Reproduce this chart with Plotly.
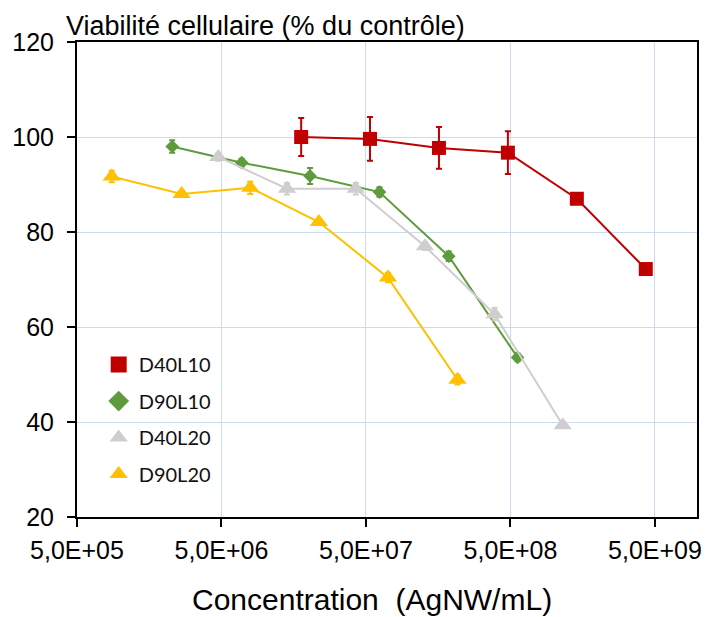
import numpy as np
import plotly.graph_objects as go

# ---- data ----
series_names = ["D40L10", "D90L10", "D40L20", "D90L20"]

red_x = [1.78e7, 5.33e7, 1.6e8, 4.8e8, 1.44e9, 4.32e9]
red_y = [100.0, 99.6, 97.7, 96.7, 87.0, 72.2]
red_err = [4.0, 4.6, 4.4, 4.5, 0.0, 0.0]

green_x = [2.28e6, 6.9e6, 2.05e7, 6.2e7, 1.87e8, 5.6e8]
green_y = [98.0, 94.6, 91.8, 88.4, 74.9, 53.6]
green_err = [1.3, 0.8, 1.7, 1.0, 1.0, 0.8]

gray_x = [4.75e6, 1.42e7, 4.25e7, 1.28e8, 3.88e8, 1.15e9]
gray_y = [95.8, 89.1, 89.1, 77.0, 62.7, 39.3]
gray_err = [0.8, 1.2, 1.2, 0.8, 1.3, 0.5]

yellow_x = [8.7e5, 2.65e6, 7.9e6, 2.36e7, 7.1e7, 2.15e8]
yellow_y = [91.7, 88.0, 89.3, 82.1, 70.4, 48.9]
yellow_err = [1.2, 0.5, 1.3, 0.5, 1.0, 1.0]

x_tickvals = [5e5, 5e6, 5e7, 5e8, 5e9]
x_ticktext = ["5,0E+05", "5,0E+06", "5,0E+07", "5,0E+08", "5,0E+09"]
y_tickvals = [20, 40, 60, 80, 100, 120]

title_text = "Viabilité cellulaire (% du contrôle)"
xtitle_text = "Concentration  (AgNW/mL)"

# ---- styles ----
colors = ["#C00000", "#5E9B3C", "#CFCDCD", "#FFC000"]
symbols = ["square", "diamond", "triangle-up", "triangle-up"]
sizes = [14, 10.5, 16, 16]
xs = [red_x, green_x, gray_x, yellow_x]
ys = [red_y, green_y, gray_y, yellow_y]
errs = [red_err, green_err, gray_err, yellow_err]

fig = go.Figure()
for name, x, y, e, c, s, sz in zip(series_names, xs, ys, errs, colors, symbols, sizes):
    fig.add_trace(go.Scatter(
        x=x, y=y, mode="lines+markers", name=name, legendgroup=name,
        showlegend=False,
        line=dict(color=c, width=2),
        marker=dict(symbol=s, size=sz, color=c, line=dict(width=0)),
        error_y=dict(type="data", array=e, visible=True, color=c,
                     thickness=2, width=3),
    ))
# legend entries (markers only, as in the reference)
for name, c, s in zip(series_names, colors, symbols):
    fig.add_trace(go.Scatter(
        x=[None], y=[None], mode="markers", name=name, legendgroup=name,
        showlegend=True,
        marker=dict(symbol=s, size=16, color=c, line=dict(width=0)),
    ))

axis_font = dict(family="Liberation Sans, Arial, sans-serif", size=25, color="black")
grid_c = "#CADCEE"

fig.update_layout(
    width=706, height=617, autosize=False,
    margin=dict(l=77, r=9, t=42, b=100, pad=0),
    paper_bgcolor="white", plot_bgcolor="white",
    font=axis_font,
    showlegend=True,
    legend=dict(
        x=0.035, y=0.362, xanchor="left", yanchor="top",
        bgcolor="rgba(0,0,0,0)", borderwidth=0,
        font=dict(family="Lato, Carlito, sans-serif", size=20, color="#111111"),
        tracegroupgap=7.5, itemsizing="trace",
    ),
    xaxis=dict(
        type="log", range=[np.log10(5e5), 9.99],
        tickvals=x_tickvals, ticktext=x_ticktext,
        ticks="outside", ticklen=8, tickwidth=2, tickcolor="black",
        showline=True, linecolor="black", linewidth=2, mirror=True,
        showgrid=True, gridcolor=grid_c, gridwidth=1, zeroline=False,
        tickfont=axis_font, ticklabelstandoff=2, automargin=False,
    ),
    yaxis=dict(
        range=[20, 120], tickvals=y_tickvals,
        ticks="outside", ticklen=8, tickwidth=2, tickcolor="black",
        showline=True, linecolor="black", linewidth=2, mirror=True,
        showgrid=True, gridcolor=grid_c, gridwidth=1, zeroline=False,
        tickfont=axis_font, ticklabelstandoff=8, automargin=False,
    ),
    annotations=[
        dict(text=title_text, xref="paper", yref="paper",
             x=-0.0215, y=1.0337, xanchor="left", yanchor="middle",
             showarrow=False,
             font=dict(family="Liberation Sans, Arial, sans-serif", size=27, color="black")),
        dict(text=xtitle_text, xref="paper", yref="paper",
             x=0.4766, y=-0.1747, xanchor="center", yanchor="middle",
             showarrow=False,
             font=dict(family="Liberation Sans, Arial, sans-serif", size=30, color="black")),
    ],
)

fig.write_html("out.html", config={"displayModeBar": False},
               post_script="document.body.style.margin='0';document.body.style.overflow='hidden';")
